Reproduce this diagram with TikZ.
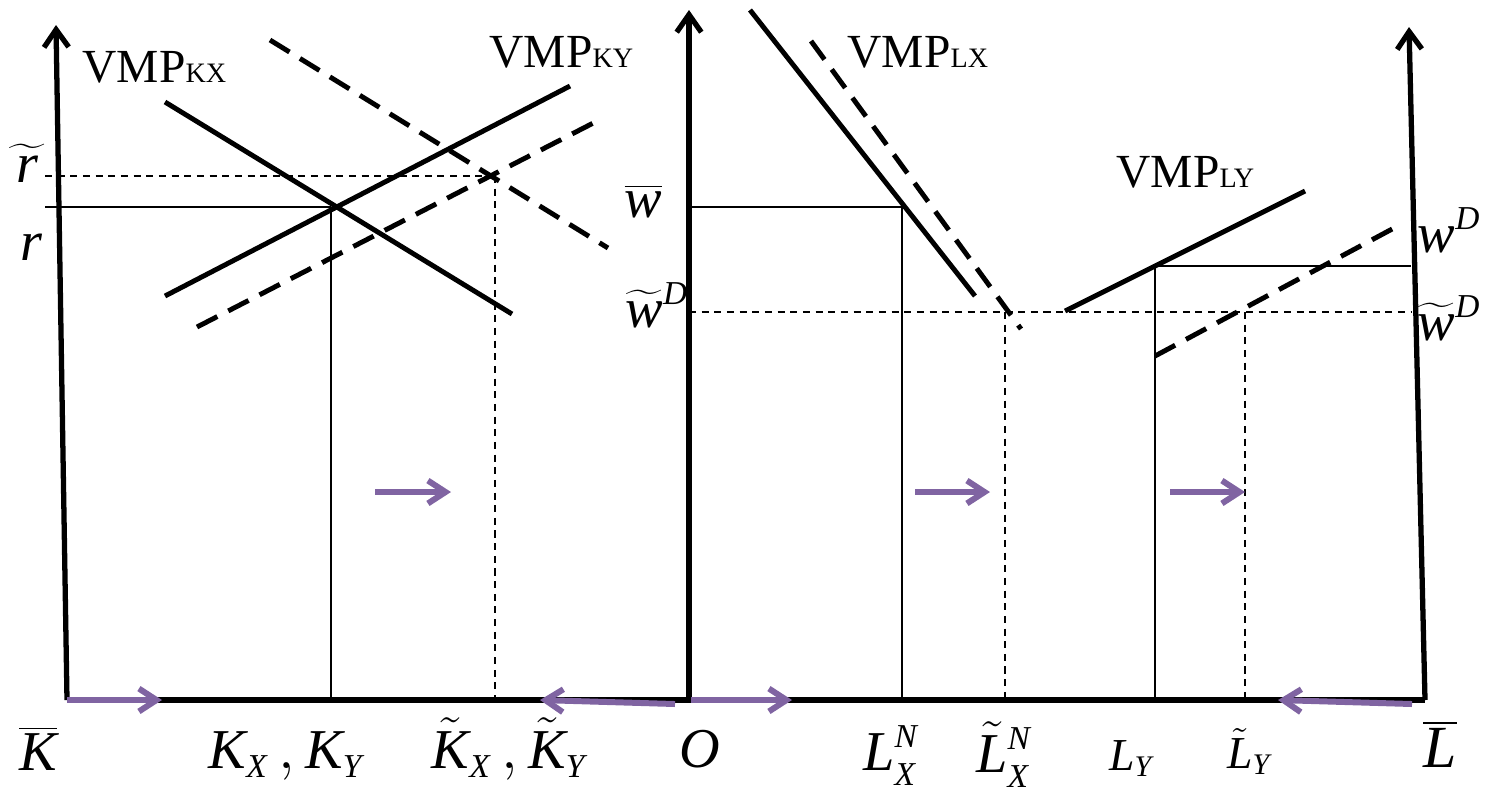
\documentclass[tikz,border=0pt]{standalone}
\usepackage{fontspec}
\setmainfont{Liberation Serif}
\usepackage{tikz}
\usetikzlibrary{arrows.meta, positioning, calc}
\definecolor{shiftPurple}{HTML}{8064A2}
\definecolor{ink}{HTML}{000000}
\DeclareMathSizes{16}{16}{9.5}{7}
\DeclareMathSizes{17}{17}{10}{7}
\DeclareMathSizes{13}{13}{8.5}{6}

\newcommand{\vmp}[1]{VMP{\fontsize{8}{9}\selectfont #1}}
\newcommand{\mi}[1]{\mathit{#1}}

\begin{document}
\begin{tikzpicture}[
  x=0.01cm, y=-0.01cm,
  every node/.style={inner sep=0pt, font=\fontsize{16}{18}\selectfont},
  axis/.style={line width=1.5pt, color=ink, -{Straight Barb[length=5pt, width=7pt, line width=1.5pt]}},
  base/.style={line width=1.5pt, color=ink},
  curve/.style={line width=1.4pt, color=ink},
  shifted/.style={line width=1.4pt, color=ink, dash pattern=on 6.5pt off 3.5pt},
  guide/.style={line width=0.5pt, color=ink},
  guidedash/.style={line width=0.5pt, color=ink, dash pattern=on 2pt off 1.6pt},
  shiftarrow/.style={line width=1.7pt, color=shiftPurple,
    -{Straight Barb[length=5pt, width=6.5pt, line width=1.7pt]}},
  curvelabel/.style={anchor=base west, font=\fontsize{13.5}{15}\selectfont},
  smalllabel/.style={font=\fontsize{13}{15}\selectfont},
]
  \useasboundingbox (0,0) rectangle (1485,790);

  % axes
  \coordinate (Kbar) at (67,700);
  \coordinate (Ktop) at (56,25);
  \coordinate (O) at (689,700);
  \coordinate (Otop) at (689,10);
  \coordinate (Lbar) at (1425,700);
  \coordinate (Ltop) at (1409,27);
  \draw[base] (Kbar) -- (Lbar);
  \draw[axis] (Kbar) -- (Ktop);
  \draw[axis] (O) -- (Otop);
  \draw[axis] (Lbar) -- (Ltop);

  % capital market
  \coordinate (kxA) at (165,102);
  \coordinate (kxB) at (512,314);
  \coordinate (kyA) at (165,296);
  \coordinate (kyB) at (570,86);
  \coordinate (kxA') at (270,40);
  \coordinate (kxB') at (608,248);
  \coordinate (kyA') at (197,327);
  \coordinate (kyB') at (603,118);
  \coordinate (eK) at (331,207);
  \coordinate (eK') at (495,176);

  \draw[curve] (kxA) -- (kxB);
  \draw[curve] (kyA) -- (kyB);
  \draw[shifted] (kxA') -- (kxB');
  \draw[shifted] (kyA') -- (kyB');

  \draw[guide] (45,207) -- (eK);
  \draw[guide] (eK) -- (eK |- Kbar);
  \draw[guidedash] (45,176) -- (eK');
  \draw[guidedash] (eK') -- (eK' |- Kbar);

  \node[curvelabel] (lblKX) at (82,82) {\vmp{KX}};
  \node[curvelabel] (lblKY) at (489,67) {\vmp{KY}};
  \node[anchor=base] (rt) at (27,182) {$\widetilde{\mkern3mu\mi{r}\mkern3mu}$};
  \node[anchor=base] (r) at (31,260) {$\mi{r}$};

  % labour market
  \coordinate (lxA) at (750,10);
  \coordinate (lxB) at (975,296);
  \coordinate (lxA') at (811,41);
  \coordinate (lxB') at (1021,329);
  \coordinate (lyA) at (1065,311);
  \coordinate (lyB) at (1305,191);
  \coordinate (lyA') at (1155,356);
  \coordinate (lyB') at (1394,228);
  \coordinate (eLX) at (902,207);
  \coordinate (eLX') at (1005,312);
  \coordinate (eLY) at (1155,266);
  \coordinate (eLY') at (1245,312);

  \draw[curve] (lxA) -- (lxB);
  \draw[shifted] (lxA') -- (lxB');
  \draw[curve] (lyA) -- (lyB);
  \draw[shifted] (lyA') -- (lyB');

  \draw[guide] (689,207) -- (eLX) -- (eLX |- O);
  \draw[guide] (eLY) -- (1411,266);
  \draw[guide] (eLY) -- (eLY |- O);
  \draw[guidedash] (689,312) -- (1411,312);
  \draw[guidedash] (eLX') -- (eLX' |- O);
  \draw[guidedash] (eLY') -- (eLY' |- O);

  \node[curvelabel] (lblLX) at (847,67) {\vmp{LX}};
  \node[curvelabel] (lblLY) at (1116,187) {\vmp{LY}};
  \node[anchor=base west] (wbar) at (624,217) {$\overline{\mi{w}}$};
  \node[anchor=base west] (wtD) at (625,327) {$\widetilde{\mi{w}}^{\mi{D}}$};
  \node[anchor=base west] (wD) at (1417,252) {$\mi{w}^{\mi{D}}$};
  \node[anchor=base west] (wtDr) at (1417,340) {$\widetilde{\mi{w}}^{\mi{D}}$};

  % shifts
  \draw[shiftarrow] (375,492) -- (451,492);
  \draw[shiftarrow] (915,492) -- (990,492);
  \draw[shiftarrow] (1170,492) -- (1245,492);
  \draw[shiftarrow] (Kbar) -- (162,700);
  \draw[shiftarrow] (675,704) -- (540,700);
  \draw[shiftarrow] (691,700) -- (792,700);
  \draw[shiftarrow] (1412,704) -- (1278,700);

  % horizontal labels
  \node[anchor=base] (Kb) at (38,770) {$\overline{\mi{K}}$};
  \node[anchor=base] (Kxy) at (286,768) {$\mi{K}_{\mi{X}}\,, \mi{K}_{\mi{Y}}$};
  \node[anchor=base] (Ktxy) at (509,768) {$\tilde{\mi{K}}_{\mi{X}}\,, \tilde{\mi{K}}_{\mi{Y}}$};
  \node[anchor=base] (Olbl) at (700,767) {$\mi{O}$};
  \node[anchor=base] (LXN) at (891,770) {$\mi{L}_{\mi{X}}^{\mi{N}}$};
  \node[anchor=base] (LtXN) at (1004,772) {$\tilde{\mi{L}}_{\mi{X}}^{\mi{N}}$};
  \node[anchor=base, smalllabel] (LY) at (1131,770) {$\mi{L}_{\mi{Y}}$};
  \node[anchor=base, smalllabel] (LtY) at (1249,768) {$\tilde{\mi{L}}_{\mi{Y}}$};
  \node[anchor=base, font=\fontsize{17}{19}\selectfont] (Lb) at (1440,767) {$\overline{\mi{L}}$};
\end{tikzpicture}
\end{document}
